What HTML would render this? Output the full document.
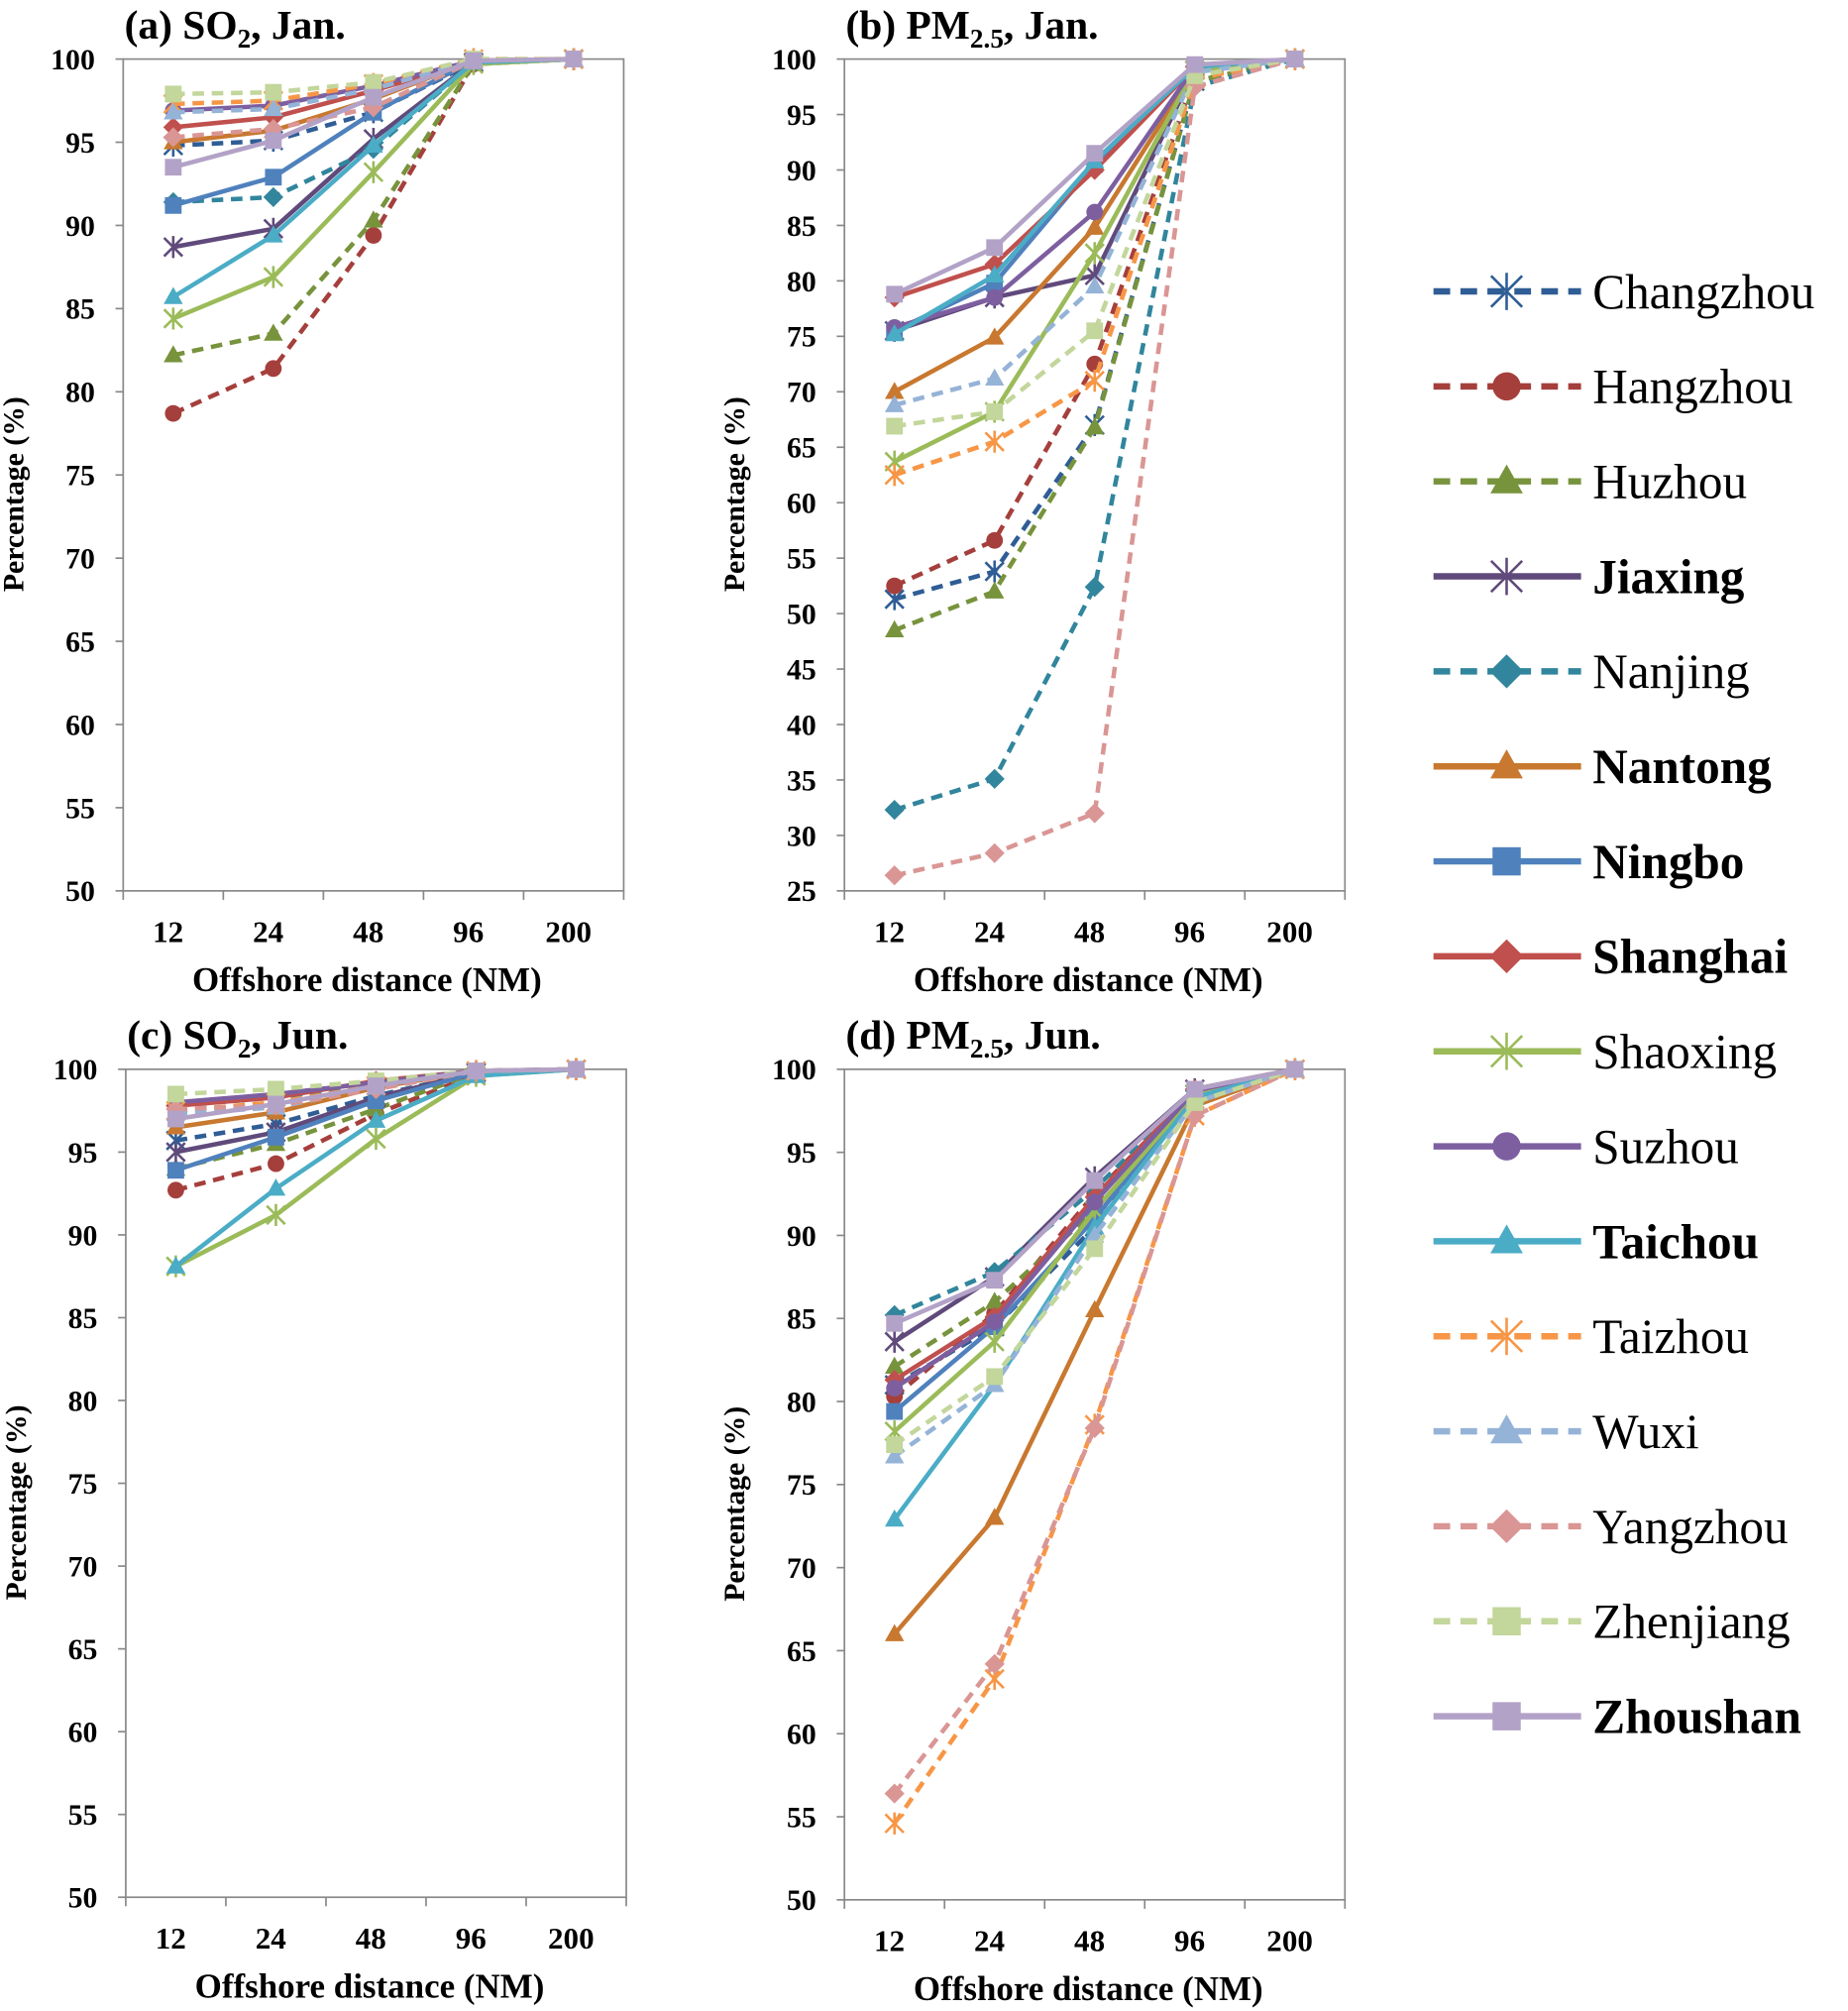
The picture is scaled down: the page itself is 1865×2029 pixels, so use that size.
<!DOCTYPE html>
<html><head><meta charset="utf-8"><style>
html,body{margin:0;padding:0;background:#fff}
svg{display:block}
text{font-family:"Liberation Serif",serif;font-weight:bold;fill:#000}
</style></head><body>
<svg id="fig" width="1865" height="2029" viewBox="0 0 1440 1566.6" xmlns="http://www.w3.org/2000/svg"></svg>
<script>
const categories=["12","24","48","96","200"];
const cities=["Changzhou","Hangzhou","Huzhou","Jiaxing","Nanjing","Nantong","Ningbo","Shanghai","Shaoxing","Suzhou","Taichou","Taizhou","Wuxi","Yangzhou","Zhenjiang","Zhoushan"];
const colors=["#2f5d95","#a53f3c","#77933c","#604a7b","#31859c","#c8782f","#4f81bd","#c0504d","#9bbb59","#7d5fa0","#4bacc6","#f79646","#95b3d7","#d99694","#c3d69b","#b3a2c7"];
const dashed=[true,true,true,false,true,false,false,false,false,false,false,true,true,true,true,false];
const boldLegend=[false,false,false,true,false,true,true,true,false,false,true,false,false,false,false,true];
const markers=["star","circle","tri","star","diamond","tri","square","diamond","xstar","circle","tri","star","tri","diamond","square","square"];
const so2Jan=[[94.8,95.1,96.8,99.8,100],[78.7,81.4,89.4,99.7,100],[82.2,83.5,90.3,99.7,100],[88.7,89.8,95.2,99.8,100],[91.4,91.7,94.6,99.8,100],[95.0,95.7,97.6,99.9,100],[91.2,92.9,96.8,99.9,100],[95.9,96.5,98.1,99.9,100],[84.4,86.9,93.2,99.7,100],[96.9,97.2,98.4,99.9,100],[85.7,89.4,94.8,99.8,100],[97.3,97.5,98.5,100,100],[96.8,97.0,98.2,99.9,100],[95.3,95.8,97.1,99.9,100],[97.9,98.0,98.6,100,100],[93.5,95.1,97.7,99.9,100]];
const pmJan=[[51.3,53.8,67,98,100],[52.5,56.6,72.5,98.5,100],[48.5,52,66.8,98,100],[75.5,78.5,80.5,99,100],[32.3,35.1,52.4,97.5,100],[70,74.9,84.8,99,100],[75.5,79.8,90.5,99.3,100],[78.5,81.5,90,99.3,100],[63.7,68.2,82.5,99,100],[75.8,78.5,86.2,99.3,100],[75.2,80.5,90.8,99.3,100],[62.5,65.5,71,98.2,100],[68.8,71.2,79.5,98.8,100],[26.4,28.4,32,97.5,100],[66.9,68.2,75.5,98.5,100],[78.8,83,91.5,99.5,100]];
const so2Jun=[[95.7,96.7,98.4,99.8,100],[92.7,94.3,97.3,99.7,100],[94.0,95.5,97.6,99.8,100],[95.0,96.2,98.3,99.8,100],[97.8,98.3,99.1,99.9,100],[96.5,97.4,98.9,99.9,100],[93.9,95.9,98.1,99.8,100],[97.8,98.3,99.3,99.9,100],[88.1,91.2,95.8,99.6,100],[98.0,98.5,99.2,99.9,100],[88.1,92.8,96.9,99.6,100],[97.5,98.0,99.0,99.9,100],[97.3,97.7,98.9,99.9,100],[97.6,97.8,98.8,99.9,100],[98.5,98.8,99.3,99.9,100],[97.0,97.9,99.0,99.9,100]];
const pmJun=[[81,84.5,90.5,98.5,100],[80.3,85.3,92.5,98.7,100],[82.1,86,91.5,98.5,100],[83.6,87.5,93.5,98.8,100],[85.2,87.8,92.8,98.7,100],[66,73,85.5,97.8,100],[79.4,84.5,91,98.6,100],[81.3,85.1,92.3,98.8,100],[78.2,83.6,91.5,98.5,100],[80.8,84.8,92,98.7,100],[72.9,81,90.5,98.3,100],[54.6,63.3,78.6,97.2,100],[76.7,81,90,98,100],[56.4,64.2,78.4,97.2,100],[77.4,81.5,89.2,98,100],[84.7,87.3,93.3,98.8,100]];
const ticksA=[50,55,60,65,70,75,80,85,90,95,100];
const ticksB=[25,30,35,40,45,50,55,60,65,70,75,80,85,90,95,100];

const NS="http://www.w3.org/2000/svg";
const svg=document.getElementById("fig");
function el(tag,attrs,parent){const e=document.createElementNS(NS,tag);for(const k in attrs)e.setAttribute(k,attrs[k]);(parent||svg).appendChild(e);return e;}

function marker(g,type,x,y,s,color){
  let m;
  if(type==="circle"){m=el("circle",{cx:x,cy:y,r:s,fill:color},g);}
  else if(type==="square"){m=el("rect",{x:x-s,y:y-s,width:2*s,height:2*s,fill:color},g);}
  else if(type==="tri"){m=el("polygon",{points:`${x},${y-s*1.2} ${x-s*1.15},${y+s*0.85} ${x+s*1.15},${y+s*0.85}`,fill:color},g);}
  else if(type==="diamond"){m=el("polygon",{points:`${x},${y-s*1.2} ${x+s*1.2},${y} ${x},${y+s*1.2} ${x-s*1.2},${y}`,fill:color},g);}
  else{
    const d=s*1.1;const p=`M${x-d},${y-d}L${x+d},${y+d}M${x-d},${y+d}L${x+d},${y-d}M${x},${y-d*1.2}L${x},${y+d*1.2}`;
    m=el("path",{d:p,stroke:color,"stroke-width":2,fill:"none"},g);
  }
  return m;
}

function panel(cfg){
  const g=el("g",{});
  
  
  const {L,R,T,B,min,max,ticks,data}=cfg;
  const bw=(R-L)/categories.length;
  const xs=i=>L+bw*(i+0.5);
  const ys=v=>B-(v-min)/(max-min)*(B-T);
  const box=el("rect",{x:L,y:T,width:R-L,height:B-T,fill:"none",stroke:"#888","stroke-width":1.3},g);
  
  
  ticks.forEach(t=>{
    el("line",{x1:L-6,x2:L,y1:ys(t),y2:ys(t),stroke:"#888","stroke-width":1.3},g);
    const tx=el("text",{x:L-22,y:ys(t)+8,"text-anchor":"end","font-size":23},g);
    tx.textContent=t;
    
    
  });
  for(let i=0;i<=categories.length;i++){el("line",{x1:L+bw*i,x2:L+bw*i,y1:B,y2:B+7,stroke:"#888","stroke-width":1.3},g);}
  categories.forEach((c,i)=>{
    const tx=el("text",{x:xs(i)-4,y:B+40,"text-anchor":"middle","font-size":24},g);
    tx.textContent=c;
    
    
  });
  const xt=el("text",{x:(L+R)/2-5,y:B+78,"text-anchor":"middle","font-size":27,"xml:space":"preserve"},g);
  xt.textContent="Offshore  distance (NM)";
  
  
  const cy=(T+B)/2+15;
  const yt=el("text",{x:cfg.yx,y:cy,"text-anchor":"middle","font-size":23,transform:`rotate(-90 ${cfg.yx} ${cy})`},g);
  yt.textContent="Percentage (%)";
  
  
  const ti=el("text",{x:L+1,y:T-16,"font-size":32},g);
  
  
  const a=el("tspan",{},ti);a.textContent=cfg.t1;
  const b=el("tspan",{dy:7,"font-size":21},ti);b.textContent=cfg.sub;
  const c=el("tspan",{dy:-7},ti);c.textContent=cfg.t2;
  data.forEach((vals,s)=>{
    const sg=el("g",{},g);
    
    
    const pts=vals.map((v,i)=>xs(i)+","+ys(v)).join(" ");
    const pl=el("polyline",{points:pts,fill:"none",stroke:colors[s],"stroke-width":3.5,"stroke-dasharray":dashed[s]?"9,6":"none"},sg);
    
    
    vals.forEach((v,i)=>{
      const m=marker(sg,markers[s],xs(i),ys(v),6.5,colors[s]);
      
      
    });
  });
}
panel({name:"panel-a-so2-jan",L:96,R:486,T:46,B:694,min:50,max:100,ticks:ticksA,data:so2Jan,yx:18,t1:"(a) SO",sub:"2",t2:", Jan."});
panel({name:"panel-b-pm25-jan",L:658,R:1048,T:46,B:694,min:25,max:100,ticks:ticksB,data:pmJan,yx:580,t1:"(b) PM",sub:"2.5",t2:", Jan."});
panel({name:"panel-c-so2-jun",L:98,R:488,T:833,B:1478,min:50,max:100,ticks:ticksA,data:so2Jun,yx:20,t1:"(c) SO",sub:"2",t2:", Jun."});
panel({name:"panel-d-pm25-jun",L:658,R:1048,T:833,B:1480,min:50,max:100,ticks:ticksA,data:pmJun,yx:580,t1:"(d) PM",sub:"2.5",t2:", Jun."});

const lg=el("g",{});


cities.forEach((c,s)=>{
  const y=227+74*s;
  const eg=el("g",{},lg);
  
  
  el("line",{x1:1117,x2:1232,y1:y,y2:y,stroke:colors[s],"stroke-width":5,"stroke-dasharray":dashed[s]?"13,8":"none"},eg);
  marker(eg,markers[s],1174,y,11,colors[s]);
  const t=el("text",{x:1241,y:y+13,"font-size":38},eg);
  t.style.fontWeight=boldLegend[s]?"bold":"normal";
  t.textContent=c;
});
</script>
</body></html>
